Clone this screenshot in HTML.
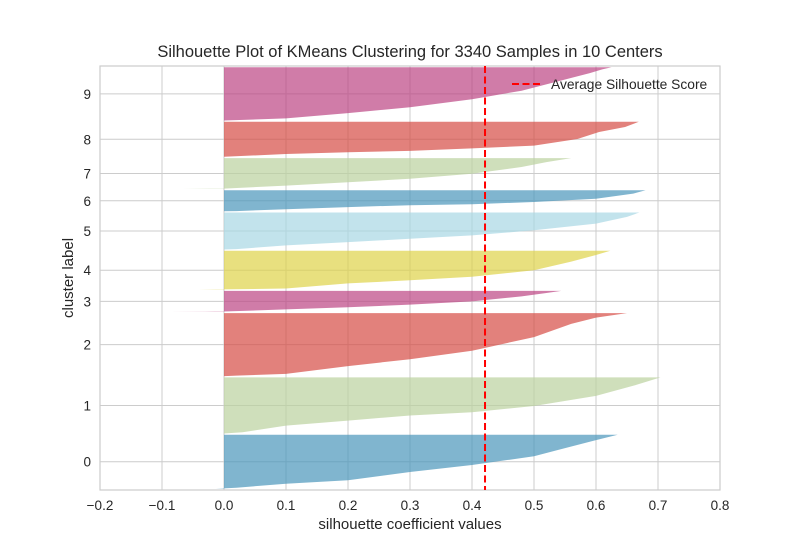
<!DOCTYPE html>
<html><head><meta charset="utf-8"><style>
body{margin:0;background:#fff;}
svg{display:block;font-family:"Liberation Sans",Arial,sans-serif;}
</style></head><body>
<svg id="chart" width="800" height="550"></svg>
<script>
const clusterLabels=["0","1","2","3","4","5","6","7","8","9"];
const clusterSizes=[440,456,513,171,317,301,171,252,285,434];
// sorted silhouette profile per cluster: fraction of band (bottom->top) and value
const profFrac=[
[0,0.02,0.094,0.157,0.31,0.44,0.6,0.72,0.9,1],
[0,0.02,0.14,0.23,0.32,0.38,0.49,0.67,0.85,1],
[0,0.01,0.037,0.16,0.27,0.405,0.62,0.83,0.93,1],
[0,0.012,0.02,0.12,0.22,0.35,0.5,0.74,0.9,1],
[0,0.008,0.03,0.16,0.24,0.33,0.5,0.72,0.89,1],
[0,0.01,0.11,0.2,0.29,0.38,0.52,0.7,0.88,1],
[0,0.01,0.1,0.2,0.29,0.33,0.44,0.6,0.84,1],
[0,0.015,0.11,0.22,0.33,0.49,0.71,0.87,0.95,1],
[0,0.08,0.13,0.17,0.24,0.32,0.51,0.71,0.85,1],
[0,0.04,0.14,0.25,0.4,0.56,0.74,0.89,0.96,1]];
const profVals=[
[-0.013,0.02,0.10,0.20,0.30,0.40,0.50,0.54,0.60,0.635],
[0,0.03,0.10,0.20,0.30,0.40,0.50,0.60,0.66,0.704],
[-0.003,0.02,0.10,0.20,0.30,0.40,0.50,0.56,0.60,0.65],
[-0.088,-0.03,0,0.10,0.20,0.30,0.40,0.48,0.52,0.544],
[-0.041,0,0.10,0.20,0.30,0.40,0.50,0.56,0.60,0.623],
[0,0.02,0.10,0.20,0.30,0.40,0.50,0.60,0.65,0.67],
[0,0.02,0.10,0.20,0.30,0.40,0.50,0.60,0.66,0.68],
[-0.067,0,0.10,0.20,0.30,0.40,0.48,0.52,0.545,0.56],
[0,0.10,0.20,0.30,0.40,0.50,0.57,0.605,0.647,0.669],
[-0.005,0.10,0.20,0.30,0.40,0.48,0.54,0.59,0.61,0.625]];
const clusterColors=["rgb(74,149,186)","rgb(186,209,158)","rgb(214,75,68)","rgb(188,68,131)","rgb(222,211,72)","rgb(168,215,228)","rgb(74,149,186)","rgb(186,209,158)","rgb(214,75,68)","rgb(188,68,131)"];
const xTicks=[-0.2,-0.1,0,0.1,0.2,0.3,0.4,0.5,0.6,0.7,0.8];
const avgScore=0.421;

const L=100,R=720,T=66,B=490,NS="http://www.w3.org/2000/svg";
const gap=10;
const yMax=gap+clusterSizes.reduce((a,b)=>a+b,0)+gap*clusterSizes.length;
const X=v=>L+(v-(-0.2))/(1.0)*(R-L);
const Y=v=>B-v/yMax*(B-T);
const svg=document.getElementById('chart');
function mk(tag,attrs,parent){const e=document.createElementNS(NS,tag);for(const k in attrs)e.setAttribute(k,attrs[k]);(parent||svg).appendChild(e);return e;}

// grid
let lower=gap;const centers=[];
clusterSizes.forEach(s=>{centers.push(lower+s/2);lower+=s+gap;});
xTicks.forEach(t=>{const g=mk('line',{x1:X(t),x2:X(t),y1:T,y2:B,stroke:'#cccccc','stroke-width':1});

});
centers.forEach(c=>{const g=mk('line',{x1:L,x2:R,y1:Y(c),y2:Y(c),stroke:'#cccccc','stroke-width':1});

});

// clusters
lower=gap;
clusterSizes.forEach((s,i)=>{
  let pts=[[X(0),Y(lower)]];
  profFrac[i].forEach((f,j)=>{pts.push([X(profVals[i][j]),Y(lower+f*s)]);});
  pts.push([X(0),Y(lower+s)]);
  const p=mk('polygon',{points:pts.map(q=>q[0].toFixed(1)+','+q[1].toFixed(1)).join(' '),fill:clusterColors[i],'fill-opacity':0.7});
  
  
  lower+=s+gap;
});

// frame
const fr=mk('rect',{x:L,y:T,width:R-L,height:B-T,fill:'none',stroke:'#cccccc','stroke-width':1.2});



// avg line
const al=mk('line',{x1:X(avgScore),x2:X(avgScore),y1:T,y2:B,stroke:'#ff0000','stroke-width':2,'stroke-dasharray':'7,3.5'});



// tick labels
xTicks.forEach(t=>{const e=mk('text',{x:X(t),y:510,'text-anchor':'middle','font-size':13.5,fill:'#262626'});e.textContent=(Math.round(t*10)/10).toFixed(1).replace('-','\u2212');

});
centers.forEach((c,i)=>{const e=mk('text',{x:91,y:Y(c)+5,'text-anchor':'end','font-size':13.5,fill:'#262626'});e.textContent=clusterLabels[i];

});

// titles
let e=mk('text',{x:410,y:57,'text-anchor':'middle','font-size':16.5,fill:'#262626'});e.textContent='Silhouette Plot of KMeans Clustering for 3340 Samples in 10 Centers';


e=mk('text',{x:410,y:529,'text-anchor':'middle','font-size':15,fill:'#262626'});e.textContent='silhouette coefficient values';


e=mk('text',{x:0,y:0,'text-anchor':'middle','font-size':15,fill:'#262626',transform:'translate(73,278) rotate(-90)'});e.textContent='cluster label';



// legend
const lg=mk('g',{});


mk('line',{x1:512,x2:540,y1:84,y2:84,stroke:'#ff0000','stroke-width':2,'stroke-dasharray':'7,3.5'},lg);
e=mk('text',{x:551,y:89,'font-size':13.8,fill:'#262626'},lg);e.textContent='Average Silhouette Score';
</script>
</body></html>
